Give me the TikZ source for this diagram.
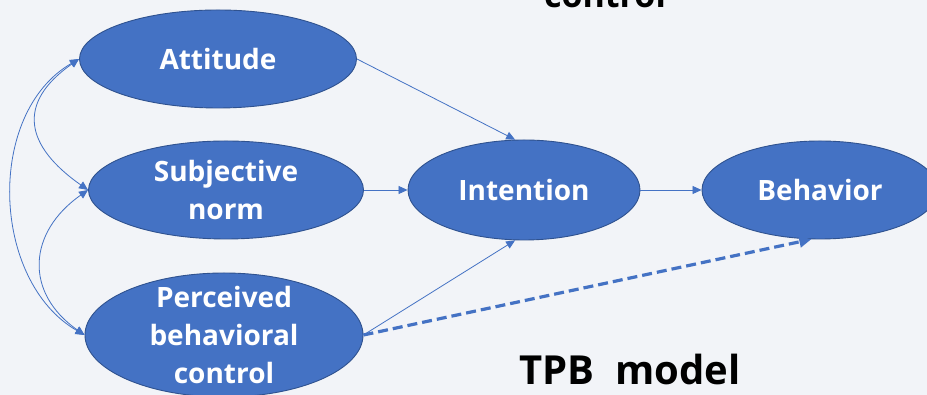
\documentclass[tikz,border=0pt]{standalone}
\usepackage{fontspec}
\setmainfont{Open Sans}
\usetikzlibrary{arrows.meta,shapes.geometric,positioning}
\definecolor{tpbblue}{HTML}{4472C4}
\definecolor{tpbedge}{HTML}{2F528F}
\definecolor{tpbbg}{HTML}{F2F4F8}

\begin{document}
\begin{tikzpicture}[
    x=1pt,y=1pt,
    construct/.style={ellipse,draw=tpbedge,line width=0.9pt,fill=tpbblue,text=white,inner sep=0pt,align=center,font=\fontsize{28}{38}\selectfont\bfseries},
    arrow/.style={draw=tpbblue,line width=0.8pt,-{Triangle[length=9pt,width=8pt]}},
    bidir/.style={arrow,{Triangle[length=9pt,width=8pt]}-{Triangle[length=9pt,width=8pt]}},
    dasharrow/.style={draw=tpbblue,line width=3.2pt,dash pattern=on 10pt off 5pt,-{Triangle[length=12pt,width=11pt]}}
]
    \useasboundingbox (0,0) rectangle (927,395);
    \clip (0,0) rectangle (927,395);
    \fill[tpbbg] (0,0) rectangle (927,395);

    \node[construct,minimum width=277pt,minimum height=98pt] (att) at (218,336) {Attitude};
    \node[construct,minimum width=275pt,minimum height=98pt] (subj) at (226,205) {Subjective\\norm};
    \node[construct,minimum width=278pt,minimum height=124pt,inner ysep=-12pt] (pbc) at (224,60) {Perceived\\behavioral\\control};
    \node[construct,minimum width=232pt,minimum height=100pt] (intent) at (524,205) {Intention};
    \node[construct,minimum width=236pt,minimum height=98pt] (behav) at (820,205) {Behavior};

    \node[anchor=base,font=\fontsize{34}{40}\selectfont\bfseries] (ctrl) at (605,387) {control};
    \node[font=\fontsize{40}{48}\selectfont\bfseries] (title) at (630,25) {TPB~~model};

    \draw[arrow] (att.east) -- (intent.100);
    \draw[arrow] (subj.east) -- (intent.west);
    \draw[arrow] (intent.east) -- (behav.west);
    \draw[arrow] (pbc.east) -- (intent.-100);
    \draw[dasharrow] (pbc.east) -- (behav.-100);

    \draw[bidir] (att.west) to[out=215,in=145,looseness=1.5] (subj.west);
    \draw[bidir] (subj.west) to[out=215,in=145,looseness=1.3] (pbc.west);
    \draw[bidir] (att.west) to[out=210,in=150] (pbc.west);
\end{tikzpicture}
\end{document}
